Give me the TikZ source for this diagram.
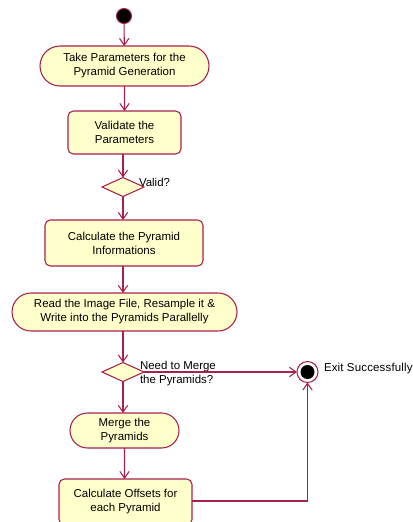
\documentclass[tikz,border=0pt]{standalone}
\usepackage{fontspec}
\setmainfont{Liberation Sans}
\usetikzlibrary{shapes.geometric,shapes.misc,arrows.meta}
\definecolor{umlline}{HTML}{A8204E}
\definecolor{umlfill}{HTML}{FFFFCC}
\begin{document}
\begin{tikzpicture}[x=0.75pt,y=-0.75pt,
  font=\fontsize{8.6}{10.5}\selectfont,
  every node/.style={inner sep=0pt,outer sep=0pt},
  stadium/.style={rounded rectangle,draw=umlline,fill=umlfill,line width=0.8pt,align=center,minimum height=#1*0.75pt},
  actbox/.style={rectangle,rounded corners=4pt,draw=umlline,fill=umlfill,line width=0.8pt,align=center},
  decis/.style={diamond,draw=umlline,fill=umlfill,line width=0.8pt,aspect=2.2,minimum width=42*0.75pt,minimum height=19*0.75pt},
  flow/.style={draw=umlline,line width=0.8pt,-{Straight Barb[length=5pt,width=7pt]}},
  lbl/.style={align=left,anchor=west}]
\useasboundingbox (0,0) rectangle (412,522);
% start
\node[circle,draw=umlline,fill=black,line width=0.8pt,minimum size=15*0.75pt] (start) at (124,16) {};
% activities
\node[stadium=40,minimum width=169*0.75pt] (take) at (124.5,66) {Take Parameters for the\\Pyramid Generation};
\node[actbox,minimum width=113*0.75pt,minimum height=43*0.75pt] (valid) at (124.5,132.5) {Validate the\\Parameters};
\node[decis] (d1) at (123,187) {};
\node[lbl] (d1l) at (139,182) {Valid?};
\node[actbox,minimum width=158*0.75pt,minimum height=46*0.75pt] (calc) at (124,243) {Calculate the Pyramid\\Informations};
\node[stadium=38,minimum width=225*0.75pt] (read) at (124.5,312) {Read the Image File, Resample it \&\\Write into the Pyramids Parallelly};
\node[decis] (d2) at (123,372) {};
\node[lbl] (d2l) at (140,374) {Need to Merge\\the Pyramids?};
\node[stadium=35,minimum width=109*0.75pt] (merge) at (124.5,430.5) {Merge the\\Pyramids};
\node[actbox,minimum width=133*0.75pt,minimum height=46*0.75pt] (offs) at (125.5,502) {Calculate Offsets for\\each Pyramid};
% end
\node[circle,draw=umlline,fill=white,line width=0.8pt,minimum size=21*0.75pt] (end) at (307.5,372) {};
\node[circle,fill=black,minimum size=14*0.75pt] (endin) at (307.5,372) {};
\node[lbl] (endl) at (324,369) {\addfontfeature{LetterSpace=1.5}Exit Successfully};
% flows
\draw[flow] (start) -- (take);
\draw[flow] (take) -- (valid);
\draw[flow] (valid.south -| d1.north) -- (d1);
\draw[flow] (d1) -- (calc.north -| d1.south);
\draw[flow] (calc.south -| d1.south) -- (read.north -| d1.south);
\draw[flow] (read.south -| d2.north) -- (d2);
\draw[flow] (d2) -- (end);
\draw[flow] (d2) -- (merge.north -| d2.south);
\draw[flow] (merge) -- (offs.north -| merge.south);
\coordinate (corner) at (end.south |- {(0,501)});
\draw[flow] (offs.east |- corner) -- (corner) -- (end);
\end{tikzpicture}
\end{document}
